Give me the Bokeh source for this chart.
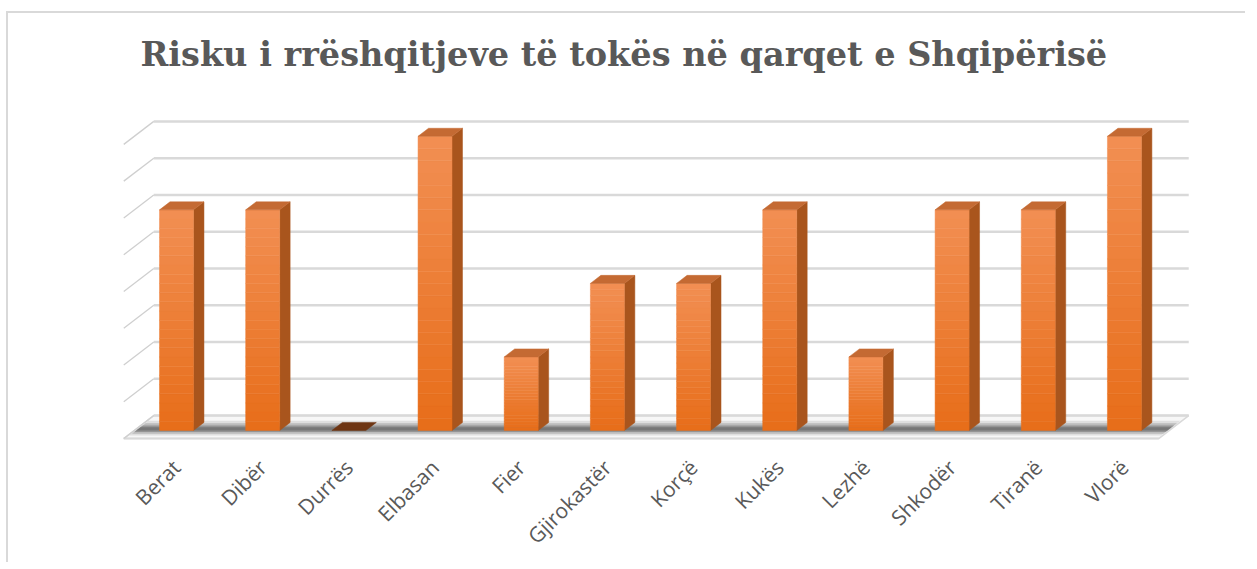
import math
import numpy as np
from bokeh.plotting import figure
from bokeh.models import Range1d, FixedTicker, Label
from bokeh.embed import file_html
from bokeh.resources import INLINE

# ---- data ----
categories = ["Berat", "Dibër", "Durrës", "Elbasan", "Fier", "Gjirokastër",
              "Korçë", "Kukës", "Lezhë", "Shkodër", "Tiranë", "Vlorë"]
risk_values = [3, 3, 0, 4, 1, 2, 2, 3, 1, 3, 3, 4]
grid_values = [0, 0.5, 1, 1.5, 2, 2.5, 3, 3.5, 4]
title_text = "Risku i rrëshqitjeve të tokës në qarqet e Shqipërisë"

# ---- pseudo-3D geometry (style constants) ----
DX, DY = 0.348, 0.3125      # full depth offset in data units
D_FRONT, D_BACK = -0.35, 0.65  # floor front / back wall depth (bar front plane = 0)
BD = 0.35                   # bar depth
W = 0.197                   # bar half width
XL = -0.49                  # left wall x at depth 0
XR = 11.52                  # right floor edge at depth 0

def P(x, y, d):
    return x + d * DX, y + d * DY

p = figure(width=1239, height=551, output_backend="svg", toolbar_location=None,
           title=None,
           x_range=Range1d(-0.673, 11.79), y_range=Range1d(-0.204, 5.670),
           min_border_left=110, min_border_right=55, min_border_top=0,
           min_border_bottom=119)
p.styles = {"border-left": "2px solid #d9d9d9", "border-top": "2px solid #d9d9d9",
            "margin-left": "6px", "margin-top": "11px"}
p.outline_line_color = None
p.background_fill_color = "white"
p.border_fill_color = "white"
p.xgrid.visible = False
p.ygrid.visible = False
p.yaxis.visible = False

# chart title
p.add_layout(Label(x=-0.418, y=5.11, text=title_text, text_font="DejaVu Serif",
                   text_font_style="bold", text_font_size="33.5px",
                   text_color="#595959", text_align="left",
                   text_baseline="alphabetic"))

# x axis labels
xa = p.xaxis[0]
xa.ticker = FixedTicker(ticks=list(range(len(categories))))
xa.major_label_overrides = {i: c for i, c in enumerate(categories)}
xa.major_label_orientation = math.pi / 4
xa.major_label_text_font = "Open Sans"
xa.major_label_text_font_size = "21px"
xa.major_label_text_color = "#595959"
xa.major_label_standoff = 12
xa.axis_line_color = None
xa.major_tick_line_color = None
xa.minor_tick_line_color = None

n = len(categories)
xs_idx = np.arange(n)

# ---- floor ----
fl = [P(XL, 0, D_FRONT), P(XR, 0, D_FRONT), P(XR, 0, D_BACK), P(XL, 0, D_BACK)]
p.patch([q[0] for q in fl], [q[1] for q in fl], fill_color="#f7f7f7",
        line_color="#d9d9d9", line_width=1.5)
# floor shadow band (blurred look with stacked translucent strips)
for d0, d1, a in [(-0.22, 0.42, 0.12), (-0.14, 0.32, 0.20), (-0.06, 0.22, 0.28), (0.0, 0.14, 0.28)]:
    sh = [P(XL + 0.02, 0, d0), P(XR - 0.02, 0, d0), P(XR - 0.02, 0, d1), P(XL + 0.02, 0, d1)]
    p.patch([q[0] for q in sh], [q[1] for q in sh], fill_color="#303030",
            fill_alpha=a, line_color=None)
# front floor edge highlight
p.line([P(XL, 0, D_FRONT)[0], P(XR, 0, D_FRONT)[0]], [P(XL, 0, D_FRONT)[1]] * 2,
       line_color="#d9d9d9", line_width=2)

# ---- back wall gridlines & left wall diagonals ----
for v in grid_values:
    x0, y0 = P(XL, v, D_BACK)
    x1, y1 = P(XR, v, D_BACK)
    p.line([x0, x1], [y0, y1], line_color="#d9d9d9", line_width=2.5)
    fx, fy = P(XL, v, D_FRONT)
    p.line([fx, x0], [fy, y0], line_color="#cfcfcf", line_width=1.3)

# ---- bars ----
NB = 24
front_top = np.array([0xF2, 0x8F, 0x53])
front_bot = np.array([0xE7, 0x6D, 0x19])
def hexc(c):
    return "#%02x%02x%02x" % tuple(int(round(t)) for t in c)

band_l, band_r, band_b, band_t, band_c = [], [], [], [], []
side_xs, side_ys, top_xs, top_ys, top_cols = [], [], [], [], []
for i, v in zip(xs_idx, risk_values):
    if v > 0:
        for k in range(NB):
            b = v * k / NB
            t = v * (k + 1) / NB
            f = (k + 0.5) / NB
            band_l.append(i - W); band_r.append(i + W)
            band_b.append(b); band_t.append(t)
            band_c.append(hexc(front_bot + (front_top - front_bot) * f))
        s = [P(i + W, 0, 0), P(i + W, 0, BD), P(i + W, v, BD), P(i + W, v, 0)]
        side_xs.append([q[0] for q in s]); side_ys.append([q[1] for q in s])
    tp = [P(i - W, v, 0), P(i + W, v, 0), P(i + W, v, BD), P(i - W, v, BD)]
    top_xs.append([q[0] for q in tp]); top_ys.append([q[1] for q in tp])
    top_cols.append("#6e3513" if v == 0 else "#c46a33")

p.patches(side_xs, side_ys, fill_color="#a9551d", line_color="#a9551d", line_width=0.5)
p.quad(left=band_l, right=band_r, bottom=band_b, top=band_t, fill_color=band_c,
       line_color=band_c, line_width=0.5)
p.patches(top_xs, top_ys, fill_color=top_cols, line_color=top_cols, line_width=0.5)

open("out.html", "w").write(file_html(p, INLINE))
